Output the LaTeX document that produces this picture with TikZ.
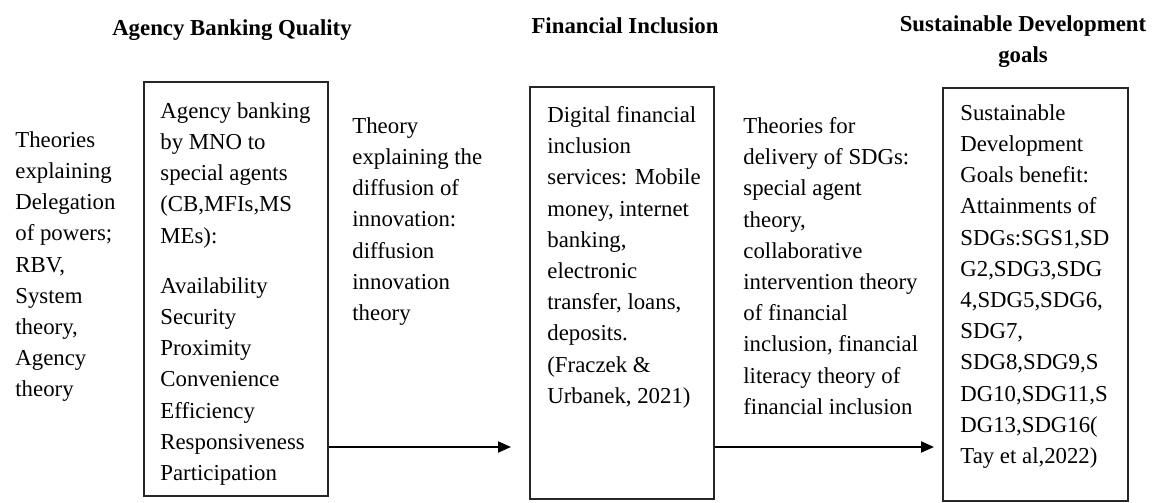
\documentclass[tikz,border=0pt]{standalone}
\usepackage{fontspec}
\setmainfont{Liberation Serif}
\usetikzlibrary{arrows.meta}

\begin{document}
\begin{tikzpicture}[x=0.5pt,y=-0.5pt,
			boxblack/.style={rectangle, draw=black!85, line width=1pt, minimum width=92pt, inner sep=0pt},
			plaintext/.style={inner sep=0pt, anchor=north west, align=left, font=\fontsize{11.4}{15.6}\selectfont},
			headbold/.style={inner sep=0pt, anchor=base, align=center, font=\fontsize{11.4}{15.3}\selectfont\bfseries},
			link/.style={draw=black, line width=1pt, -{Triangle[length=6.5pt,width=5.5pt]}},
			]

\useasboundingbox (0,0) rectangle (1152,503);

\node[headbold] (abqhead) at (232,35) {Agency Banking Quality};
\node[headbold] (finhead) at (625,33) {Financial Inclusion};
\node[headbold] (sdghead) at (1023,62) {Sustainable Development\\goals};

\node[boxblack, minimum height=207pt] (abq) at (236,289) {};
\node[boxblack, minimum height=206pt] (fin) at (622,293) {};
\node[boxblack, minimum width=92.5pt, minimum height=206.5pt] (sdg) at (1035.5,294.5) {};

% first baselines sit about 15.6 units under these tops
\node[plaintext] (delegation) at (15,131) {Theories\\explaining\\Delegation\\of powers;\\RBV,\\System\\theory,\\Agency\\theory};

\node[plaintext] (abqtext) at (160,102) {Agency banking\\by MNO to\\special agents\\(CB,MFIs,MS\\MEs):\\[9.5pt]
Availability\\Security\\Proximity\\Convenience\\Efficiency\\Responsiveness\\Participation};

\node[plaintext] (diffusion) at (352,117) {Theory\\explaining the\\diffusion of\\innovation:\\diffusion\\innovation\\theory};

\node[plaintext] (fintext) at (547,106) {Digital financial\\inclusion\\services: Mobile\\money, internet\\banking,\\electronic\\transfer, loans,\\deposits.\\(Fraczek \&\\Urbanek, 2021)};

\node[plaintext] (delivery) at (743,117) {Theories for\\delivery of SDGs:\\special agent\\theory,\\collaborative\\intervention theory\\of financial\\inclusion, financial\\literacy theory of\\financial inclusion};

\node[plaintext] (sdgtext) at (960,104) {Sustainable\\Development\\Goals benefit:\\Attainments of\\SDGs:SGS1,SD\\G2,SDG3,SDG\\4,SDG5,SDG6,\\SDG7,\\SDG8,SDG9,S\\DG10,SDG11,S\\DG13,SDG16(\\Tay et al,2022)};

\coordinate (lvl) at (0,447);
\draw[link, shorten >=9pt] (abq.east |- lvl) -- (fin.west |- lvl);
\draw[link, shorten >=4pt] (fin.east |- lvl) -- (sdg.west |- lvl);

\end{tikzpicture}
\end{document}
